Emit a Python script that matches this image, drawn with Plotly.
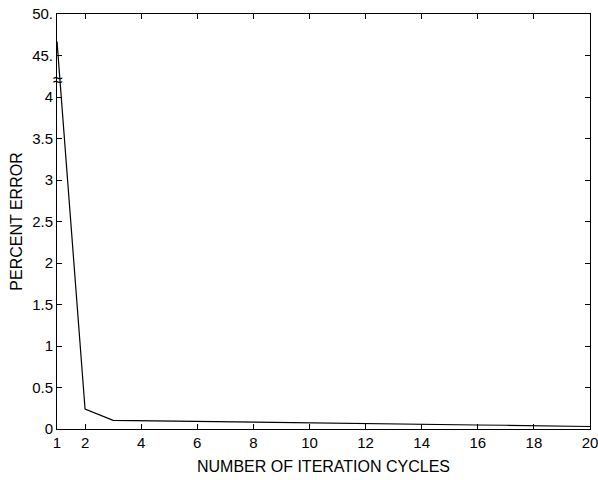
import plotly.graph_objects as go

cycles = list(range(1, 21))
percent_error = [46.7, 0.24, 0.105, 0.10, 0.095, 0.092, 0.09, 0.087, 0.084, 0.078,
                 0.07, 0.065, 0.06, 0.055, 0.053, 0.048, 0.045, 0.042, 0.038, 0.03]

y_tick_vals = [0, 0.5, 1, 1.5, 2, 2.5, 3, 3.5, 4, 4.5, 5]
y_tick_text = ["0", "0.5", "1", "1.5", "2", "2.5", "3", "3.5", "4", "45.", "50."]
x_tick_vals = [1, 2, 4, 6, 8, 10, 12, 14, 16, 18, 20]
x_tick_text = [str(v) for v in x_tick_vals]

BREAK_LOW, BREAK_HIGH, BREAK_SCALE = 4.5, 45.0, 10.0


def to_axis(v):
    # broken axis: values above 45 are compressed into the 4.5..5 band
    return v if v <= BREAK_LOW else BREAK_LOW + (v - BREAK_HIGH) / BREAK_SCALE


y_plot = [to_axis(v) for v in percent_error]

font_family = "Liberation Sans, Arial, Helvetica, sans-serif"

fig = go.Figure()
fig.add_trace(go.Scatter(
    x=cycles, y=y_plot, mode="lines",
    line=dict(color="black", width=1.2),
    customdata=percent_error,
    hovertemplate="cycle %{x}: %{customdata}%<extra></extra>",
    cliponaxis=False,
))

# break marker on the y axis
fig.add_annotation(x=1, y=4.2, xref="x", yref="y", text="≈", showarrow=False,
                   font=dict(size=18, color="black", family=font_family),
                   xshift=1, textangle=0, bgcolor="rgba(0,0,0,0)", borderpad=0)

axis_common = dict(
    showline=True, linecolor="black", linewidth=1, mirror="ticks",
    ticks="inside", ticklen=5, tickcolor="black", tickwidth=1,
    showgrid=False, zeroline=False, automargin=False,
    ticklabeloverflow="allow",
    tickfont=dict(size=15, color="black", family=font_family),
)

fig.update_xaxes(range=[1, 20], tickmode="array", tickvals=x_tick_vals,
                 ticktext=x_tick_text,
                 title=dict(text="NUMBER OF ITERATION CYCLES", standoff=10,
                            font=dict(size=16, color="black", family=font_family)),
                 **axis_common)
fig.update_yaxes(range=[0, 5], tickmode="array", tickvals=y_tick_vals,
                 ticktext=y_tick_text,
                 title=dict(text="PERCENT ERROR", standoff=5,
                            font=dict(size=16, color="black", family=font_family)),
                 **axis_common)

fig.update_layout(
    width=598, height=480,
    margin=dict(l=57, r=8, t=14, b=51),
    paper_bgcolor="white", plot_bgcolor="white",
    showlegend=False,
)

# remove the default page margin so the 598x480 figure fills the window exactly
fig.write_html("out.html",
               config={"displayModeBar": False},
               post_script="document.body.style.margin='0';"
                           "document.body.style.overflow='hidden';")
